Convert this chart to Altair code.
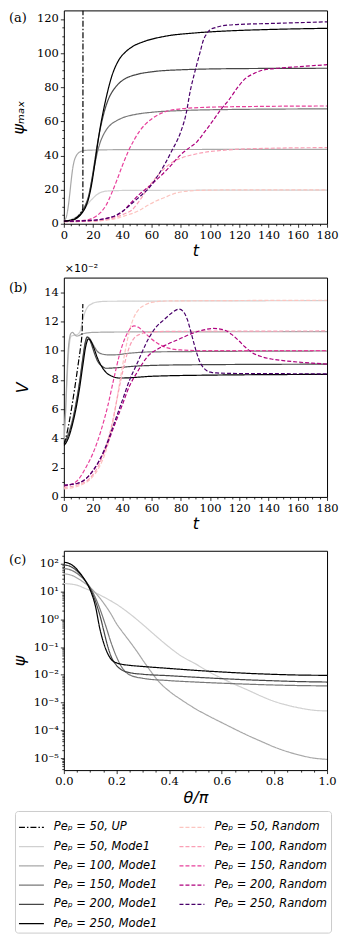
import altair as alt
import pandas as pd

# ---------------- series names / styles ----------------
UP = "Peₚ = 50, UP"
PE = [50, 100, 150, 200, 250]
MODE = [f"Peₚ = {p}, Mode1" for p in PE]
RAND = [f"Peₚ = {p}, Random" for p in PE]
DOMAIN = [UP] + MODE + RAND
MODE_COLORS = ["#d0d0d0", "#a8a8a8", "#787878", "#464646", "#000000"]
RAND_COLORS = ["#fcc5c0", "#fa9fb5", "#e8409c", "#ae017e", "#49006a"]
UP_COLOR = "#000000"
MODE_WIDTHS = [1.2, 1.3, 1.2, 1.3, 1.6]

# ---------------- panel (a): psi_max vs t ----------------
A_UP = [(0, 1.5), (4, 2.0), (8, 3.3), (10, 4.6), (12, 7.0), (13, 9.0), (13.1, 125)]
A_M50 = [(0, 1.5), (4, 2.2), (8, 3.8), (11, 5.8), (14, 8.8), (17, 12.2), (20, 15.0), (23, 17.3),
         (26, 18.6), (30, 19.2), (40, 19.5), (60, 19.6), (180, 19.7)]
A_M100 = [(0, 1.5), (1, 2.5), (2, 5), (3, 10), (4, 17), (5, 25), (6, 32), (7, 36.5), (8, 39),
          (10, 41.5), (12, 42.5), (15, 43), (20, 43.2), (40, 43.4), (180, 43.6)]
A_M150 = [(0, 1.5), (5, 2.2), (10, 4.5), (13, 8), (15, 11.5), (17, 16.5), (19, 25), (21, 34), (23, 42),
          (25, 48), (27, 52), (29, 55), (32, 58), (36, 60.3), (40, 62), (50, 64.2), (60, 65.3),
          (80, 66.3), (120, 67), (180, 67.3)]
A_M200 = [(0, 1.5), (5, 2.1), (10, 4.2), (13, 7.5), (15, 11), (17, 16), (19, 25), (21, 36), (23, 47),
          (25, 56), (27, 63.5), (29, 69.5), (31, 74), (34, 78.5), (38, 82.5), (42, 85), (50, 87.5),
          (60, 89), (80, 90.2), (120, 90.9), (180, 91.1)]
A_M250 = [(0, 1.5), (5, 2.0), (10, 4.0), (13, 7), (15, 10), (17, 15), (19, 23), (21, 34), (23, 46),
          (25, 57), (27, 66), (29, 74), (31, 81), (33, 87), (35, 91.5), (38, 96.5), (42, 100.5),
          (47, 103.8), (55, 106.8), (69, 109.8), (90, 111.8), (113, 113), (140, 113.8), (180, 114.5)]
A_R50 = [(0, 1.2), (20, 1.5), (30, 2.2), (38, 3.6), (43, 5), (47, 6.1), (52, 8), (57.8, 11), (63, 13.3),
         (68.9, 15.4), (75, 17.5), (80, 18.6), (91, 19.5), (110, 19.8), (180, 19.9)]
A_R100 = [(0, 1.2), (20, 1.5), (30, 2.5), (36, 4), (42, 6), (46.7, 8.1), (50, 11.5), (53.4, 15.5),
          (57.8, 21.5), (62, 26), (68.9, 32.5), (75, 36.5), (80, 38.4), (91, 41), (113, 43.3),
          (140, 44.2), (180, 44.6)]
A_R150 = [(0, 1.5), (10, 1.7), (17, 2.5), (21, 3.8), (25, 6.5), (29, 11), (32.5, 17.5), (36.5, 26),
          (40, 34), (44, 42.3), (48, 49), (52, 54.5), (56, 58.5), (61, 62), (68, 65.2), (80, 67.3),
          (100, 68.3), (130, 68.7), (180, 69)]
A_R200 = [(0, 1.5), (15, 1.8), (25, 2.5), (30, 3.3), (35.8, 4.8), (40, 7), (46.7, 13), (52, 17.5),
          (57.8, 21.5), (65, 27), (72, 33), (79.9, 40.4), (85, 44), (91, 48), (96, 53.5), (102, 60.4),
          (107, 66.5), (113, 72.7), (119, 80), (124, 85), (130, 88), (135, 89.8), (145, 91),
          (157, 91.8), (180, 93.2)]
A_R250 = [(0, 1.5), (15, 1.8), (25, 2.5), (30, 3.3), (35.8, 5), (40, 7.2), (46.7, 12), (52, 16),
          (57.8, 20.5), (63, 26.5), (68.9, 34.7), (74, 43), (79.9, 53.7), (83.5, 64), (86.6, 78.4),
          (89, 87), (91, 93.6), (93.5, 101.5), (95.4, 107.5), (97.5, 111), (99.8, 113.5), (104, 115),
          (108.6, 116), (120, 116.8), (140, 117.3), (180, 118.3)]

# ---------------- panel (b): V (x1e-2) vs t ----------------
B_UP = [(0, 3.6), (2, 4.3), (4, 5.3), (6, 6.5), (8, 7.8), (10, 9.2), (11.5, 10.3), (12.5, 11.3), (13, 13.2)]
B_M50 = [(0, 3.8), (1, 5.3), (2, 7.5), (3, 9.5), (4, 10.6), (5, 11.0), (7, 11.05), (9, 11.1), (11, 11.3),
         (12.5, 11.9), (14, 12.5), (16, 12.95), (19, 13.2), (23, 13.33), (30, 13.38), (180, 13.42)]
B_M100 = [(0, 3.8), (1, 5.5), (2, 8), (3, 10), (4, 10.9), (5, 11.2), (6, 11.25), (7, 11.15), (8, 11.05),
          (9, 11.0), (10, 11.02), (12, 11.12), (15, 11.2), (20, 11.25), (40, 11.28), (180, 11.3)]
B_M150 = [(0, 3.7), (3, 4.3), (6, 5.3), (9, 6.8), (11, 8.0), (13, 9.4), (14.5, 10.4), (16, 10.9),
          (17.5, 10.85), (19, 10.6), (21, 10.25), (23, 9.95), (26, 9.78), (30, 9.72), (35, 9.72),
          (45, 9.83), (60, 9.92), (180, 9.98)]
B_M200 = [(0, 3.6), (3, 4.2), (6, 5.2), (9, 6.7), (11, 8.0), (13, 9.5), (14.5, 10.5), (16, 10.95),
          (17.5, 10.8), (19, 10.4), (21, 9.8), (23, 9.3), (26, 8.95), (29, 8.8), (34, 8.82), (50, 8.95),
          (80, 9.03), (180, 9.08)]
B_M250 = [(0, 3.5), (3, 4.0), (6, 5.0), (9, 6.4), (11, 7.6), (13, 9.0), (15, 10.3), (16.8, 10.8),
          (18.5, 10.65), (20.5, 10.2), (23, 9.5), (26, 8.9), (29, 8.5), (33, 8.25), (38, 8.13),
          (45, 8.15), (60, 8.25), (100, 8.33), (180, 8.38)]
B_R50 = [(0, 0.55), (10, 0.75), (18, 1.2), (24, 2.0), (29, 3.2), (33, 4.8), (36, 6.5), (39, 8.3),
         (42, 10.0), (45, 11.4), (48, 12.3), (51, 12.8), (55, 13.1), (60, 13.3), (70, 13.4), (180, 13.45)]
B_R100 = [(0, 0.65), (10, 0.85), (18, 1.3), (24, 2.2), (29, 3.5), (33, 5.0), (36, 6.5), (39, 8.0),
          (42, 9.3), (45, 10.3), (48, 10.85), (52, 11.12), (58, 11.25), (70, 11.32), (180, 11.35)]
B_R150 = [(0, 0.75), (5, 0.85), (10, 1.2), (15, 2.0), (20, 3.0), (25, 4.4), (30, 6.2), (34, 8.0),
          (38, 9.7), (42, 10.9), (45, 11.45), (48, 11.7), (51, 11.6), (55, 11.25), (60, 10.8),
          (65, 10.45), (70, 10.22), (80, 10.05), (100, 10.0), (180, 10.0)]
B_R200 = [(0, 0.8), (10, 0.95), (20, 1.8), (28, 3.2), (35, 5.0), (40, 6.3), (45, 7.6), (50, 8.5),
          (57.8, 9.66), (64, 10.1), (71, 10.45), (79, 10.8), (86.5, 11.13), (94, 11.38), (102, 11.52),
          (107, 11.48), (111, 11.36), (115, 11.1), (119.7, 10.68), (124, 10.25), (128.6, 9.88),
          (135, 9.6), (142, 9.43), (150, 9.32), (157, 9.25), (170, 9.15), (180, 9.09)]
B_R250 = [(0, 0.8), (10, 0.95), (20, 1.8), (28, 3.3), (35, 5.2), (40, 6.6), (45, 8.0), (50, 9.1),
          (57.8, 10.8), (63, 11.6), (68.9, 12.15), (74, 12.6), (78.8, 12.84), (81.5, 12.7),
          (84.4, 12.15), (86.6, 11.4), (88.8, 10.57), (91, 9.8), (93.2, 9.2), (95.4, 8.85),
          (97.6, 8.64), (101, 8.52), (104.5, 8.48), (120, 8.44), (180, 8.42)]

# ---------------- panel (c): psi vs theta/pi (Mode1) ----------------
C_M50 = [(0, 19.5), (0.05, 17), (0.08, 13), (0.1, 11), (0.15, 6.5), (0.2, 3.5), (0.25, 1.6), (0.3, 0.65),
         (0.35, 0.25), (0.4, 0.1), (0.45, 0.045), (0.5, 0.025), (0.55, 0.013), (0.6, 0.0075),
         (0.65, 0.0045), (0.7, 0.0028), (0.75, 0.0017), (0.8, 0.0011), (0.85, 0.0008),
         (0.9, 0.00063), (0.95, 0.00053), (1.0, 0.0005)]
C_M100 = [(0, 43.5), (0.02, 41), (0.04, 35), (0.06, 27), (0.08, 20), (0.1, 14), (0.12, 9), (0.15, 4),
          (0.18, 1.5), (0.2, 0.7), (0.22, 0.38), (0.25, 0.16), (0.28, 0.065), (0.3, 0.034),
          (0.33, 0.0135), (0.36, 0.0058), (0.4, 0.0026), (0.45, 0.0012), (0.5, 0.0006), (0.55, 0.00033),
          (0.6, 0.00019), (0.65, 0.00011), (0.7, 6.5e-5), (0.75, 4.0e-5), (0.8, 2.5e-5), (0.85, 1.7e-5),
          (0.9, 1.25e-5), (0.95, 1.0e-5), (1.0, 9e-6)]
C_M150 = [(0, 67), (0.02, 63), (0.04, 52), (0.06, 38), (0.08, 25), (0.09, 19), (0.1, 14), (0.12, 6),
          (0.14, 2), (0.16, 0.55), (0.18, 0.14), (0.2, 0.045), (0.22, 0.019), (0.25, 0.01), (0.3, 0.0075),
          (0.4, 0.0062), (0.5, 0.0055), (0.6, 0.005), (0.7, 0.0046), (0.8, 0.0043), (0.9, 0.0041),
          (1.0, 0.004)]
C_M200 = [(0, 91), (0.02, 84), (0.04, 66), (0.06, 44), (0.08, 26), (0.09, 19), (0.1, 13), (0.12, 4.5),
          (0.14, 1.1), (0.15, 0.45), (0.167, 0.105), (0.18, 0.045), (0.2, 0.022), (0.22, 0.015),
          (0.25, 0.012), (0.3, 0.0105), (0.4, 0.0093), (0.5, 0.0082), (0.6, 0.0073), (0.7, 0.0066),
          (0.8, 0.0061), (0.9, 0.0057), (1.0, 0.0055)]
C_M250 = [(0, 114.5), (0.02, 103), (0.04, 78), (0.06, 48), (0.08, 26), (0.09, 18), (0.1, 11.5),
          (0.12, 3), (0.137, 0.45), (0.155, 0.11), (0.18, 0.036), (0.2, 0.027), (0.22, 0.024),
          (0.25, 0.022), (0.3, 0.02), (0.4, 0.017), (0.5, 0.0145), (0.6, 0.0127), (0.7, 0.0113),
          (0.8, 0.0104), (0.9, 0.0098), (1.0, 0.0096)]

LOG_LABELS = ["10⁻⁵", "10⁻⁴", "10⁻³", "10⁻²", "10⁻¹", "10⁰", "10¹", "10²"]

# ---------------- helpers ----------------
COLOR_MAP = {UP: UP_COLOR}
DASH_MAP = {UP: [6, 2, 1.5, 2]}
WIDTH_MAP = {UP: 1.2}
for i in range(5):
    COLOR_MAP[MODE[i]] = MODE_COLORS[i]
    COLOR_MAP[RAND[i]] = RAND_COLORS[i]
    DASH_MAP[MODE[i]] = [1, 0]
    DASH_MAP[RAND[i]] = [4, 2]
    WIDTH_MAP[MODE[i]] = MODE_WIDTHS[i]
    WIDTH_MAP[RAND[i]] = 1.25
COLORS = [COLOR_MAP[s] for s in DOMAIN]
DASHES = [DASH_MAP[s] for s in DOMAIN]
WIDTHS = [WIDTH_MAP[s] for s in DOMAIN]


def frame(series_points):
    rows = []
    for name, pts in series_points:
        for x, y in pts:
            rows.append({"x": x, "y": y, "series": name})
    return pd.DataFrame(rows)


def lin_axis(title, major, minor, lo, hi, fmt, tpad, **kw):
    n = int(round((hi - lo) / minor))
    vals = [round(lo + i * minor, 6) for i in range(n + 1)]
    test = f"abs(datum.value/{major} - round(datum.value/{major})) < 1e-6"
    return alt.Axis(title=title, values=vals, format=fmt,
                    labelExpr=f"({test}) ? datum.label : ''",
                    tickSize={"condition": {"test": test, "value": 3.5}, "value": 2},
                    labelFlush=False, labelOverlap=False, titlePadding=tpad, **kw)


def text_layer(text, x, y, font, size):
    return alt.Chart(pd.DataFrame({"t": [text]})).mark_text(
        align="left", baseline="middle", font=font, fontSize=size, color="black"
    ).encode(x=alt.value(x), y=alt.value(y), text="t:N")


def style_enc(legend):
    return dict(
        color=alt.Color("series:N", scale=alt.Scale(domain=DOMAIN, range=COLORS), legend=legend),
        strokeDash=alt.StrokeDash("series:N", scale=alt.Scale(domain=DOMAIN, range=DASHES), legend=legend),
        strokeWidth=alt.StrokeWidth("series:N", scale=alt.Scale(domain=DOMAIN, range=WIDTHS), legend=legend),
    )


W = 264
HA, HB, HC = 214, 220, 220

# ---------------- panel (a) ----------------
df_a = frame([(MODE[0], A_M50), (MODE[1], A_M100), (MODE[2], A_M150), (MODE[3], A_M200), (MODE[4], A_M250),
              (RAND[0], A_R50), (RAND[1], A_R100), (RAND[2], A_R150), (RAND[3], A_R200), (RAND[4], A_R250),
              (UP, A_UP)])
lines_a = alt.Chart(df_a).mark_line(clip=True, interpolate="monotone").encode(
    x=alt.X("x:Q", scale=alt.Scale(domain=[0, 180], nice=False),
            axis=lin_axis("t", 20, 5, 0, 180, "d", 2)),
    y=alt.Y("y:Q", scale=alt.Scale(domain=[0, 125], nice=False),
            axis=lin_axis("ψₘₐₓ", 20, 5, 0, 120, "d", 10)),
    **style_enc(None),
)
panel_a = alt.layer(lines_a, text_layer("(a)", -55, 8, "DejaVu Serif", 13)).properties(width=W, height=HA)

# ---------------- panel (b) ----------------
df_b = frame([(MODE[0], B_M50), (MODE[1], B_M100), (MODE[2], B_M150), (MODE[3], B_M200), (MODE[4], B_M250),
              (RAND[0], B_R50), (RAND[1], B_R100), (RAND[2], B_R150), (RAND[3], B_R200), (RAND[4], B_R250),
              (UP, B_UP)])
lines_b = alt.Chart(df_b).mark_line(clip=True, interpolate="monotone").encode(
    x=alt.X("x:Q", scale=alt.Scale(domain=[0, 180], nice=False),
            axis=lin_axis("t", 20, 5, 0, 180, "d", 2)),
    y=alt.Y("y:Q", scale=alt.Scale(domain=[0, 15], nice=False),
            axis=lin_axis("V", 2, 0.5, 0, 14.5, "d", 13)),
    **style_enc(None),
)
panel_b = alt.layer(
    lines_b,
    text_layer("(b)", -55, 10, "DejaVu Serif", 13),
    text_layer("×10⁻²", 1, -8.5, "DejaVu Sans", 11),
).properties(width=W, height=HB)

# ---------------- panel (c) ----------------
df_c = frame([(MODE[0], C_M50), (MODE[1], C_M100), (MODE[2], C_M150), (MODE[3], C_M200), (MODE[4], C_M250)])
log_vals = [m * 10.0 ** e for e in range(-6, 3) for m in range(1, 10) if 3.7e-6 <= m * 10.0 ** e <= 295]
log_test = "abs(log(datum.value)/LN10 - round(log(datum.value)/LN10)) < 1e-6"
log_axis = alt.Axis(
    title="ψ", values=log_vals,
    labelExpr=f"({log_test}) ? {LOG_LABELS}[round(log(datum.value)/LN10)+5] : ''",
    tickSize={"condition": {"test": log_test, "value": 3.5}, "value": 2},
    labelOverlap=False, labelFlush=False, titlePadding=6,
)
legend = alt.Legend(
    title=None, orient="none", legendX=-49, legendY=261, columns=2, symbolType="stroke",
    symbolSize=625, labelFont="DejaVu Sans", labelFontStyle="italic",
    labelFontSize=11.5, labelColor="black", labelOffset=9, columnPadding=19, rowPadding=0.3,
    padding=3, strokeColor="#cccccc", fillColor="white", cornerRadius=3, labelLimit=250,
)
lines_c = alt.Chart(df_c).mark_line(clip=True, interpolate="monotone").encode(
    x=alt.X("x:Q", scale=alt.Scale(domain=[0, 1], nice=False),
            axis=lin_axis("θ/π", 0.2, 0.05, 0, 1, ".1f", 2)),
    y=alt.Y("y:Q", scale=alt.Scale(type="log", domain=[3.7e-6, 295], nice=False), axis=log_axis),
    **style_enc(legend),
)
panel_c = alt.layer(lines_c, text_layer("(c)", -55, 9, "DejaVu Serif", 13)).properties(width=W, height=HC)

chart = alt.vconcat(panel_a, panel_b, panel_c, spacing=54, bounds="flush").resolve_scale(
    color="independent", strokeDash="independent", strokeWidth="independent"
).properties(padding=0).configure_view(stroke="black", strokeWidth=1).configure_axis(
    domain=False, grid=False, tickColor="black", tickWidth=0.8, labelColor="black",
    labelFont="DejaVu Serif", labelFontSize=11.5, labelPadding=2,
    titleFont="DejaVu Sans", titleFontStyle="italic", titleFontWeight="normal", titleFontSize=16,
    titleColor="black",
)

chart.save("out.html", embed_options={"renderer": "svg", "actions": False})
